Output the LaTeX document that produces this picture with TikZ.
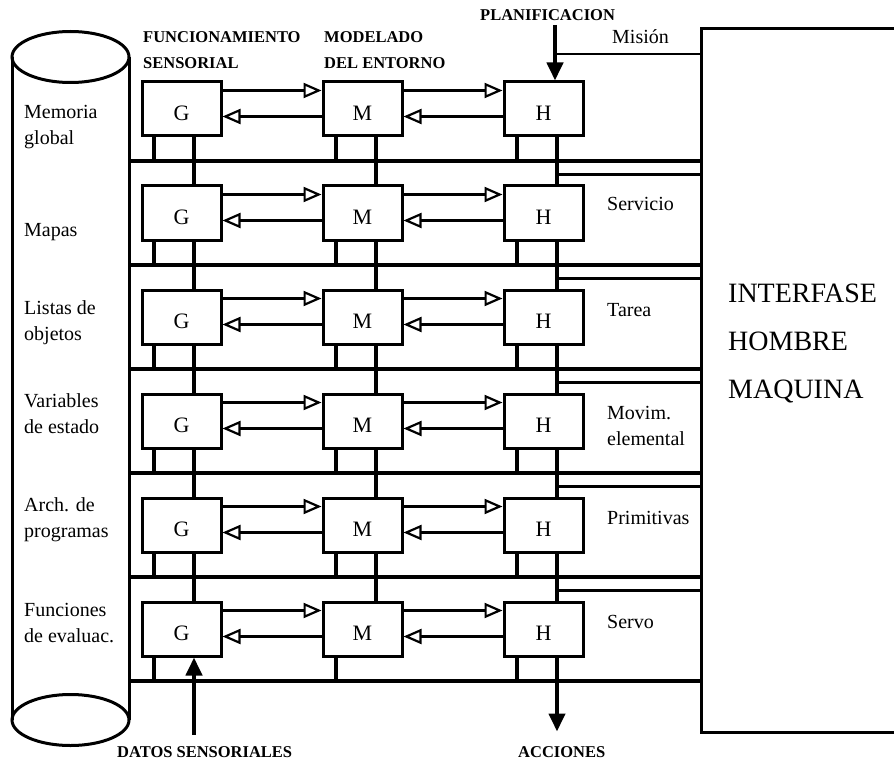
\documentclass[tikz,border=0pt]{standalone}
\usepackage{fontspec}
\setmainfont{Liberation Serif}
\usetikzlibrary{arrows.meta,calc}
\begin{document}
\begin{tikzpicture}[x=1pt,y=-1pt,
  blk/.style={draw,line width=3pt,minimum width=79pt,minimum height=54pt,inner sep=0pt,
              text height=22.5pt,text depth=0pt,font=\fontsize{22}{24}\selectfont},
  lbl/.style={inner sep=0pt,anchor=west,align=left,font=\fontsize{20}{26}\selectfont},
  hdr/.style={inner sep=0pt,anchor=west,align=left,font=\fontsize{16.5}{26}\selectfont\bfseries},
  big text/.style={inner sep=0pt,anchor=west,align=left,font=\fontsize{28}{48}\selectfont},
  bus/.style={line width=4pt},
  stub/.style={line width=4pt},
  thinline/.style={line width=2.7pt},
  outline/.style={line width=3pt},
  fwd/.style={line width=2.7pt,-{Triangle[open,length=18pt,width=15pt,line width=2.2pt]}},
  big/.style={line width=4pt,-{Triangle[length=18pt,width=16pt]}},
]
\useasboundingbox (0,0) rectangle (894,762);

% storage cylinder on the left
\draw[outline] (70.5,57) ellipse [x radius=58.5pt, y radius=25.5pt];
\draw[outline] (70.5,720) ellipse [x radius=58.5pt, y radius=25.5pt];
\draw[outline] (12,57) -- (12,720);
\draw[outline] (129,57) -- (129,720);

% man-machine interface frame (open to the right)
\coordinate (ifL) at (701,0);
\draw[outline] (894,29) -- (701,29) -- (701,732) -- (894,732);
\node[big text] (iface) at (728,343) {INTERFASE\\HOMBRE\\MAQUINA};

% the six levels: G, M, H blocks
\foreach \i in {1,...,6}{
  \pgfmathsetmacro{\yc}{109+104*(\i-1)}
  \node[blk] (G\i) at (181.5,\yc) {G};
  \node[blk] (M\i) at (362.5,\yc) {M};
  \node[blk] (H\i) at (543.5,\yc) {H};
  \coordinate (bus\i) at (129,{161+104*(\i-1)});
  % links between the blocks of one level
  \draw[fwd] ([yshift=-10pt]G\i.north east) -- ([yshift=-10pt]M\i.north west);
  \draw[fwd] ([yshift=-10pt]M\i.north east) -- ([yshift=-10pt]H\i.north west);
  \draw[fwd] ([yshift=-36pt]H\i.north west) -- ([yshift=-36pt]M\i.north east);
  \draw[fwd] ([yshift=-36pt]M\i.north west) -- ([yshift=-36pt]G\i.north east);
  % short taps from each block onto the level bus
  \draw[stub] ([xshift=-27.5pt]G\i.south) -- ++(0,25);
  \draw[stub] ([xshift=-26.5pt]M\i.south) -- ++(0,25);
  \draw[stub] ([xshift=-26.5pt]H\i.south) -- ++(0,25);
  % level bus
  \draw[bus] (bus\i) -- (ifL |- bus\i);
}

% vertical chains linking consecutive levels
\foreach \i [evaluate=\i as \j using int(\i+1)] in {1,...,5}{
  \draw[stub] ([xshift=12.5pt]G\i.south) -- ([xshift=12.5pt]G\j.north);
  \draw[stub] ([xshift=13.5pt]M\i.south) -- ([xshift=13.5pt]M\j.north);
  \draw[stub] ([xshift=13.5pt]H\i.south) -- ([xshift=13.5pt]H\j.north);
  % H chain to the interface
  \coordinate (ht\i) at ([xshift=13.5pt,yshift=-37pt]H\i.south);
  \draw[thinline] (ht\i) -- (ifL |- ht\i);
}

% column headers
\node[hdr] (hG) at (143,50) {FUNCIONAMIENTO\\SENSORIAL};
\node[hdr] (hM) at (324,50) {MODELADO\\DEL ENTORNO};
\node[hdr] (plan) at (480,15) {PLANIFICACION};

% planning input and mission line
\coordinate (pin) at ([xshift=11.5pt]H1.north);
\coordinate (mis) at (555,54);
\draw[big] (pin |- 0,25) -- (pin);
\draw[thinline] (mis) -- (ifL |- mis);
\node[lbl] (lmis) at (612,37) {Misión};

% sensor input and action output
\node[hdr] (datos) at (117,752) {DATOS SENSORIALES};
\node[hdr] (acc) at (518,752) {ACCIONES};
\coordinate (din) at ([xshift=12.5pt]G6.south);
\draw[big] ([yshift=-77pt]din) -- (din);
\draw[big] ([xshift=13.5pt]H6.south) -- ++(0,74);

% store contents
\node[lbl] (s1) at (24,127) {Memoria\\global};
\node[lbl] (s2) at (24,232) {Mapas};
\node[lbl] (s3) at (24,323) {Listas de\\objetos};
\node[lbl] (s4) at (24,414) {Variables\\de estado};
\node[lbl] (s5) at (24,520) {Arch. de\\programas};
\node[lbl] (s6) at (24,623) {Funciones\\de evaluac.};

% level names
\node[lbl] (r2) at (607,204) {Servicio};
\node[lbl] (r3) at (607,310) {Tarea};
\node[lbl] (r4) at (607,426) {Movim.\\elemental};
\node[lbl] (r5) at (607,518) {Primitivas};
\node[lbl] (r6) at (607,622) {Servo};
\end{tikzpicture}
\end{document}
